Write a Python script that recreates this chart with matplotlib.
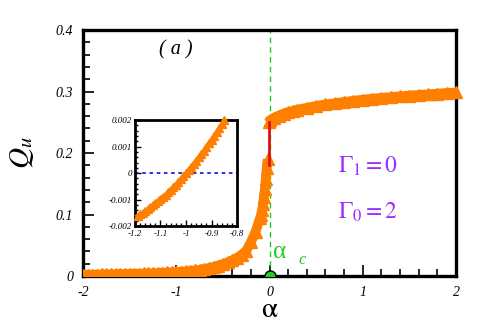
import matplotlib
matplotlib.use("Agg")
import matplotlib.pyplot as plt

plt.rcParams['font.family'] = ['Liberation Serif', 'DejaVu Serif']
plt.rcParams['mathtext.fontset'] = 'stix'
plt.rcParams['axes.unicode_minus'] = False

# ---- data ----
alpha_low = [-2.00, -1.95, -1.90, -1.85, -1.80, -1.75, -1.70, -1.65, -1.60, -1.55,
             -1.50, -1.45, -1.40, -1.35, -1.30, -1.25, -1.20, -1.15, -1.10, -1.05,
             -1.00, -0.95, -0.90, -0.85, -0.80, -0.75, -0.70, -0.65, -0.60, -0.55,
             -0.50, -0.45, -0.40, -0.35, -0.30, -0.25, -0.20, -0.15, -0.10, -0.09,
             -0.08, -0.07, -0.06, -0.05, -0.04, -0.03, -0.02]
q_low = [0.0020, 0.0021, 0.0022, 0.0023, 0.0025, 0.0026, 0.0028, 0.0030, 0.0031, 0.0033,
         0.0035, 0.0037, 0.0039, 0.0041, 0.0044, 0.0047, 0.0050, 0.0053, 0.0057, 0.0061,
         0.0065, 0.0070, 0.0076, 0.0083, 0.0092, 0.0102, 0.0115, 0.0130, 0.0148, 0.0170,
         0.0195, 0.0222, 0.0255, 0.0295, 0.0345, 0.0410, 0.0550, 0.0720, 0.0950, 0.1000,
         0.1070, 0.1170, 0.1280, 0.1420, 0.1580, 0.1750, 0.1900]

alpha_up = [-0.01, 0.00, 0.05, 0.10, 0.15, 0.20, 0.25, 0.30, 0.40, 0.50, 0.60, 0.70,
            0.80, 0.90, 1.00, 1.10, 1.20, 1.30, 1.40, 1.50, 1.60, 1.70, 1.80, 1.90, 2.00]
q_up = [0.2500, 0.2530, 0.2575, 0.2610, 0.2640, 0.2665, 0.2685, 0.2705, 0.2735, 0.2765,
        0.2790, 0.2810, 0.2830, 0.2850, 0.2868, 0.2883, 0.2897, 0.2910, 0.2922, 0.2934,
        0.2945, 0.2955, 0.2966, 0.2976, 0.2985]

jump_alpha = [-0.005, -0.005]
jump_q = [0.1800, 0.2500]

alpha_inset = [-1.19, -1.18, -1.17, -1.16, -1.15, -1.14, -1.13, -1.12, -1.11, -1.10,
               -1.09, -1.08, -1.07, -1.06, -1.05, -1.04, -1.03, -1.02, -1.01, -1.00,
               -0.99, -0.98, -0.97, -0.96, -0.95, -0.94, -0.93, -0.92, -0.91, -0.90,
               -0.89, -0.88, -0.87, -0.86, -0.85]
q_inset = [-0.00162, -0.00156, -0.00150, -0.00143, -0.00137, -0.00129, -0.00122, -0.00114,
           -0.00106, -0.00098, -0.00090, -0.00081, -0.00072, -0.00062, -0.00053, -0.00043,
           -0.00032, -0.00022, -0.00011, 0.00000, 0.00011, 0.00023, 0.00035, 0.00047,
           0.00060, 0.00072, 0.00085, 0.00099, 0.00112, 0.00126, 0.00140, 0.00155,
           0.00169, 0.00184, 0.00200]

xticks_main = [-2, -1, 0, 1, 2]
yticks_main = [0, 0.1, 0.2, 0.3, 0.4]
yticklabels_main = ['0', '0.1', '0.2', '0.3', '0.4']
xticks_inset = [-1.2, -1.1, -1.0, -0.9, -0.8]
xticklabels_inset = ['-1.2', '-1.1', '-1', '-0.9', '-0.8']
yticks_inset = [-0.002, -0.001, 0, 0.001, 0.002]
yticklabels_inset = ['-0.002', '-0.001', '0', '0.001', '0.002']

orange = '#ff8000'
purple = '#9a2cff'
green = '#22cc22'

fig = plt.figure(figsize=(4.98, 3.23), dpi=100)
ax = fig.add_axes([0.1667, 0.1455, 0.749, 0.7615])

ax.plot(alpha_low, q_low, color=orange, marker='^', ms=8, lw=7, mec=orange, zorder=3,
        solid_capstyle='butt')
ax.plot(alpha_up, q_up, color=orange, marker='^', ms=8, lw=7, mec=orange, zorder=3,
        clip_on=False, solid_capstyle='butt')
ax.plot(jump_alpha, jump_q, color='#dd1111', lw=2, zorder=4)
ax.axvline(0, color=green, ls=(0, (4, 3)), lw=1.0, zorder=2)
ax.plot([0], [0], 'o', color=green, mec='black', mew=1, ms=8, zorder=5)

ax.set_xlim(-2, 2)
ax.set_ylim(0, 0.4)
ax.set_xticks(xticks_main)
ax.set_xticklabels([str(v) for v in xticks_main])
ax.set_yticks(yticks_main)
ax.set_yticklabels(yticklabels_main)
ax.set_xticks([v / 5 for v in range(-10, 11)], minor=True)
ax.set_yticks([v / 50 for v in range(0, 21)], minor=True)
ax.tick_params(which='both', direction='in', top=False, right=False, width=1.2)
ax.tick_params(which='major', length=8, pad=7, labelsize=10)
ax.tick_params(which='minor', length=5)
for lab in ax.get_xticklabels() + ax.get_yticklabels():
    lab.set_fontstyle('italic')
for s in ax.spines.values():
    s.set_linewidth(2.4)

ax.set_xlabel(r'$\mathrm{\alpha}$', fontsize=21, labelpad=-1)
ax.set_ylabel(r'$Q_u$', fontsize=21, labelpad=14)

ax.text(-1.01, 0.367, '( a )', fontsize=14.5, style='italic', ha='center', va='center')
ax.text(0.735, 0.1675, r'$\Gamma_1 = 0$', fontsize=17, color=purple, va='baseline')
ax.text(0.735, 0.0927, r'$\Gamma_0 = 2$', fontsize=17, color=purple, va='baseline')
ax.text(0.035, 0.029, 'α', fontsize=18, color=green, va='baseline')
ax.text(0.31, 0.020, 'c', fontsize=12, color=green, va='baseline', style='italic')

# ---- inset ----
ins = fig.add_axes([0.271, 0.300, 0.205, 0.328])
ins.plot(alpha_inset, q_inset, color=orange, marker='^', ms=6, lw=3, mec=orange,
         clip_on=False, zorder=3)
ins.axhline(0, color='#2222dd', ls=(0, (2, 2)), lw=1.3, zorder=2)
ins.set_xlim(-1.2, -0.8)
ins.set_ylim(-0.002, 0.002)
ins.set_xticks(xticks_inset)
ins.set_xticklabels(xticklabels_inset)
ins.set_yticks(yticks_inset)
ins.set_yticklabels(yticklabels_inset)
ins.set_xticks([-1.2 + 0.02 * i for i in range(21)], minor=True)
ins.set_yticks([-0.002 + 0.0002 * i for i in range(21)], minor=True)
ins.tick_params(which='both', direction='in', top=False, right=False, width=1.0)
ins.tick_params(which='major', length=4.5, labelsize=6.5)
ins.tick_params(axis='x', which='major', pad=3)
ins.tick_params(axis='y', which='major', pad=2)
ins.tick_params(which='minor', length=2.5)
for lab in ins.get_xticklabels() + ins.get_yticklabels():
    lab.set_fontstyle('italic')
for s in ins.spines.values():
    s.set_linewidth(2)

fig.savefig('out.png', dpi=100)
